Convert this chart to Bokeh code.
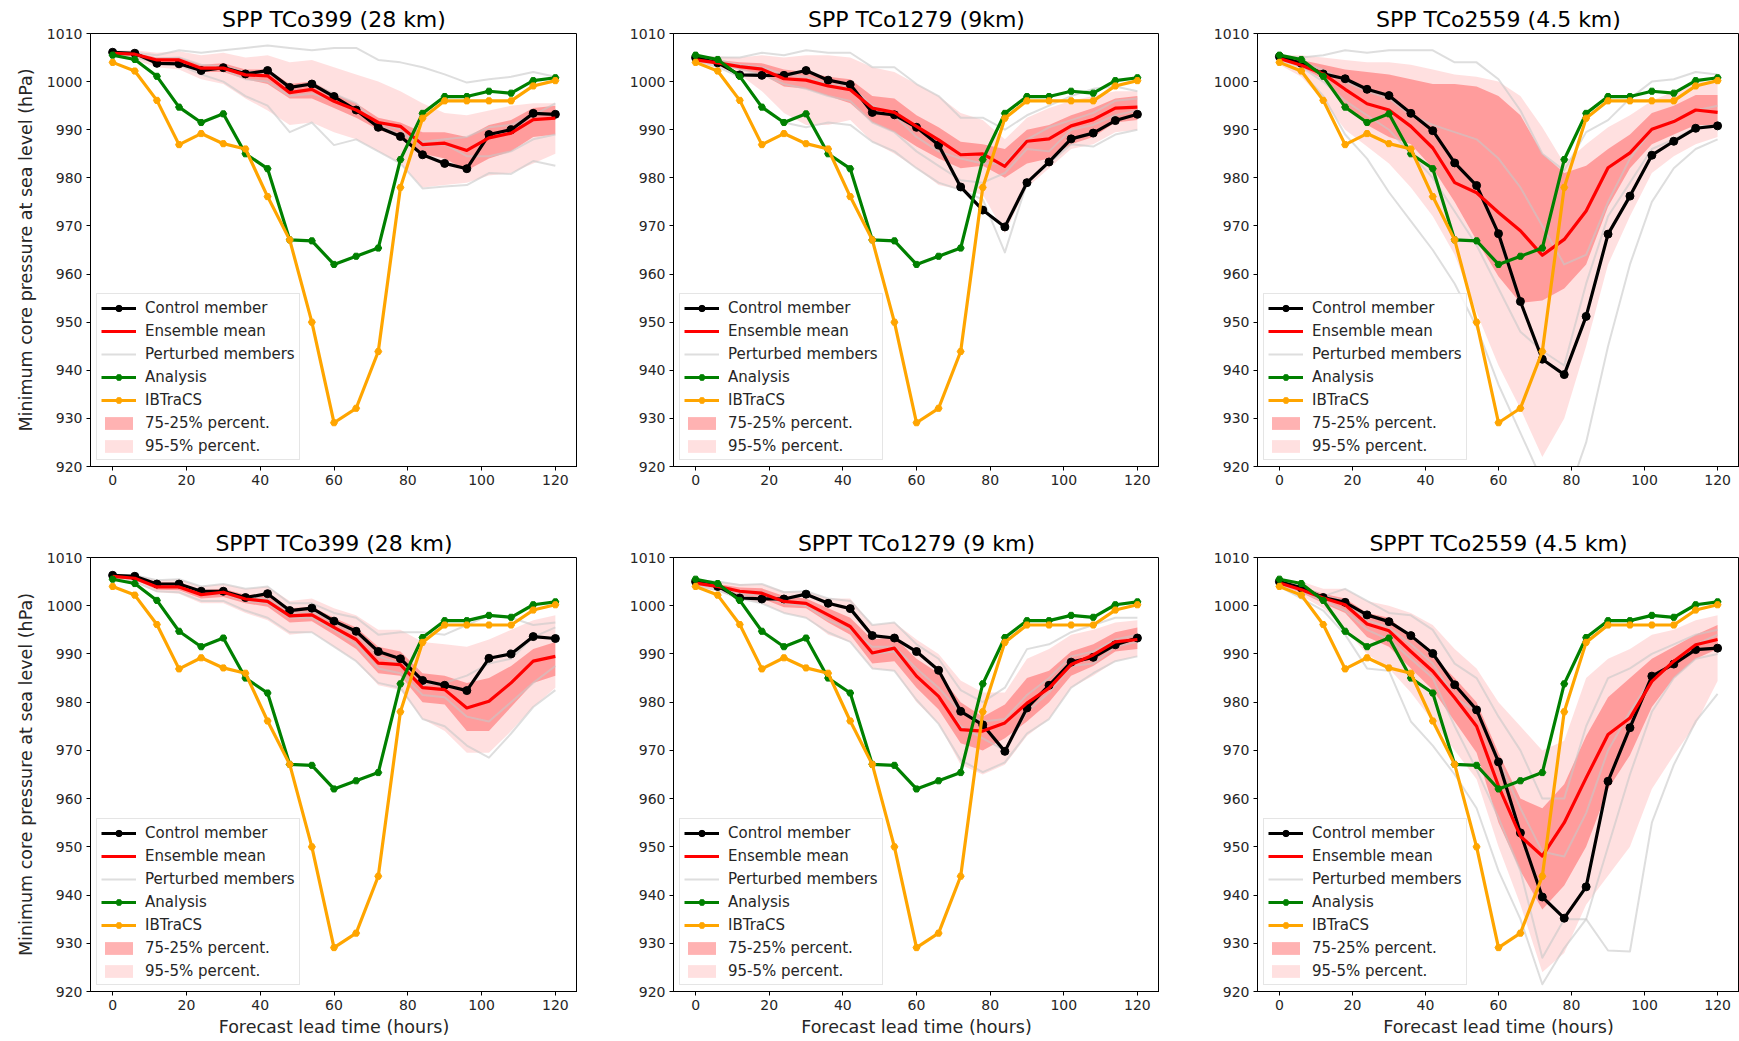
from bokeh.plotting import figure
from bokeh.layouts import column, row
from bokeh.models import FixedTicker, Legend, LegendItem, Range1d
from bokeh.embed import file_html
from bokeh.resources import INLINE

# Forecast lead times (hours)
hours = list(range(0, 121, 6))
x_ticks = [0, 20, 40, 60, 80, 100, 120]
y_ticks = [920, 930, 940, 950, 960, 970, 980, 990, 1000, 1010]

# Reference tracks shared by every panel
analysis = [1005.5, 1004.6, 1001.1, 994.7, 991.5, 993.3, 985.0, 981.9, 967.1, 966.9, 962.0,
            963.7, 965.4, 983.8, 993.4, 996.9, 996.9, 998.0, 997.6, 1000.2, 1000.8]
ibtracs = [1004.0, 1002.2, 996.1, 986.9, 989.2, 987.1, 986.0, 976.1, 967.1, 950.0, 929.1,
           932.1, 943.9, 978.0, 992.4, 996.0, 996.0, 996.0, 996.0, 999.1, 1000.2]

# ---- SPP TCo399 (28 km)
spp399_title = "SPP TCo399 (28 km)"
spp399_control = [1006.1, 1005.9, 1003.8, 1003.7, 1002.3, 1002.9, 1001.6, 1002.3, 998.8, 999.5, 996.9,
                  994.1, 990.5, 988.6, 984.8, 983.0, 981.9, 989.0, 990.0, 993.4, 993.2]
spp399_mean = [1005.9, 1005.7, 1004.5, 1004.5, 1002.8, 1002.8, 1001.4, 1001.2, 997.7, 998.4, 995.9,
               994.1, 991.5, 990.7, 986.9, 987.2, 985.7, 988.3, 989.3, 992.1, 992.4]
spp399_q75 = [1006.2, 1006.0, 1005.0, 1005.0, 1003.5, 1003.8, 1002.5, 1002.5, 999.5, 1000.0, 997.5,
              995.5, 992.5, 991.5, 989.5, 989.5, 988.5, 991.0, 992.0, 994.5, 995.0]
spp399_q25 = [1005.5, 1005.3, 1003.5, 1003.5, 1002.0, 1002.0, 1000.5, 999.5, 996.5, 996.5, 994.5,
              992.5, 990.0, 988.5, 985.0, 984.0, 981.5, 984.0, 985.5, 988.5, 989.0]
spp399_q95 = [1006.5, 1006.5, 1006.0, 1006.3, 1005.5, 1006.0, 1005.0, 1005.5, 1004.0, 1004.5, 1003.0,
              1001.5, 1000.0, 998.0, 995.5, 993.5, 993.0, 994.0, 995.0, 995.5, 995.5]
spp399_q05 = [1005.3, 1004.5, 1003.0, 1002.5, 1000.5, 999.5, 996.5, 994.0, 991.0, 991.5, 989.5,
              988.0, 985.5, 983.0, 978.0, 978.5, 979.0, 980.5, 981.0, 983.0, 985.0]
spp399_members = [
    [1006.0, 1006.0, 1005.5, 1006.5, 1006.0, 1006.5, 1007.0, 1007.5, 1007.0, 1006.5, 1007.0,
     1007.0, 1004.5, 1004.0, 1003.0, 1001.5, 999.8, 1000.5, 1001.0, 1002.0, 1001.0],
    [1005.5, 1005.0, 1004.0, 1003.5, 1001.5, 1000.0, 997.0, 995.0, 989.5, 991.5, 986.8,
     988.0, 985.5, 983.0, 977.8, 978.2, 978.5, 981.0, 980.8, 983.5, 982.5],
    [1006.0, 1005.5, 1004.5, 1004.5, 1003.0, 1002.5, 1000.5, 1000.0, 997.0, 997.5, 996.0,
     994.0, 991.5, 990.0, 986.5, 987.0, 984.5, 984.5, 985.5, 988.0, 989.0],
    [1005.8, 1005.5, 1004.8, 1005.0, 1003.5, 1003.2, 1002.0, 1002.0, 999.0, 999.5, 997.5,
     995.5, 991.0, 989.0, 987.5, 988.0, 988.5, 990.5, 991.0, 993.0, 995.5],
]

# ---- SPP TCo1279 (9km)
spp1279_title = "SPP TCo1279 (9km)"
spp1279_control = [1005.0, 1003.9, 1001.4, 1001.3, 1001.3, 1002.3, 1000.3, 999.4, 993.6, 993.1, 990.5,
                   986.8, 978.1, 973.3, 969.8, 979.0, 983.3, 988.1, 989.3, 991.9, 993.2]
spp1279_mean = [1004.5, 1003.9, 1003.1, 1002.6, 1000.6, 1000.3, 999.1, 998.3, 994.5, 993.6, 990.7,
                987.9, 984.8, 985.0, 982.4, 987.6, 988.1, 990.8, 992.1, 994.5, 994.7]
spp1279_q75 = [1005.0, 1004.5, 1004.0, 1003.8, 1002.5, 1002.0, 1001.0, 1000.5, 997.0, 996.5, 993.0,
               990.5, 987.5, 987.0, 986.0, 990.0, 991.0, 993.0, 994.5, 996.5, 997.0]
spp1279_q25 = [1004.0, 1003.5, 1002.5, 1001.5, 999.0, 998.5, 997.0, 995.5, 991.5, 989.5, 986.5,
               984.0, 982.0, 982.5, 980.0, 983.0, 984.0, 987.0, 988.5, 991.5, 992.0]
spp1279_q95 = [1005.3, 1005.2, 1005.0, 1005.5, 1005.0, 1005.5, 1005.5, 1005.0, 1003.0, 1002.0, 999.5,
               997.0, 993.5, 992.0, 988.0, 992.5, 994.5, 996.0, 997.0, 998.0, 998.0]
spp1279_q05 = [1003.8, 1003.0, 1001.5, 998.0, 993.5, 991.0, 991.0, 992.0, 987.5, 985.0, 982.0,
               978.5, 977.5, 976.5, 968.5, 978.0, 982.0, 986.0, 987.0, 989.5, 990.0]
spp1279_members = [
    [1005.0, 1005.0, 1005.0, 1006.0, 1005.5, 1006.5, 1006.0, 1006.0, 1003.0, 1003.0, 999.5,
     997.0, 992.5, 992.5, 990.0, 993.0, 995.0, 997.0, 998.5, 999.0, 998.0],
    [1004.5, 1003.0, 1001.0, 995.0, 991.5, 990.5, 991.5, 991.0, 987.5, 985.5, 982.0,
     979.0, 977.5, 975.5, 964.5, 979.0, 983.0, 987.0, 986.5, 989.0, 990.0],
    [1005.0, 1004.5, 1003.5, 1003.0, 1001.5, 1001.0, 999.5, 999.0, 995.0, 993.0, 988.5,
     985.5, 984.0, 983.0, 983.0, 988.0, 990.5, 992.0, 993.5, 996.0, 996.5],
    [1004.5, 1004.0, 1002.5, 1001.5, 999.5, 998.5, 997.0, 996.0, 991.5, 989.5, 985.5,
     982.5, 979.5, 979.0, 981.0, 986.0, 985.5, 990.0, 991.0, 993.0, 994.0],
]

# ---- SPP TCo2559 (4.5 km)
spp2559_title = "SPP TCo2559 (4.5 km)"
spp2559_control = [1005.2, 1003.8, 1001.6, 1000.6, 998.4, 997.1, 993.4, 989.8, 983.1, 978.4, 968.4,
                   954.3, 942.3, 939.1, 951.2, 968.3, 976.2, 984.7, 987.6, 990.3, 990.8]
spp2559_mean = [1004.8, 1003.4, 1001.6, 998.4, 995.4, 994.1, 990.7, 986.2, 979.0, 976.9, 972.8,
                969.0, 963.9, 967.2, 973.1, 982.1, 985.2, 990.1, 991.7, 994.1, 993.6]
spp2559_q75 = [1005.0, 1004.5, 1003.5, 1002.5, 1002.0, 1001.5, 1000.5, 999.5, 999.5, 999.0, 997.0,
               993.0, 985.0, 981.0, 982.5, 986.0, 989.0, 993.5, 995.0, 997.2, 997.2]
spp2559_q25 = [1004.5, 1003.0, 1000.5, 995.0, 991.0, 988.5, 987.0, 982.0, 975.0, 967.0, 959.5,
               954.0, 954.5, 957.0, 962.0, 974.0, 982.0, 987.0, 989.0, 991.0, 991.0]
spp2559_q95 = [1005.5, 1005.5, 1005.0, 1004.5, 1004.0, 1004.0, 1003.5, 1002.5, 1001.5, 1001.0, 1000.0,
               997.0, 990.5, 983.0, 987.0, 990.5, 993.0, 996.0, 998.0, 1000.0, 1000.0]
spp2559_q05 = [1003.5, 1001.0, 996.0, 990.0, 986.5, 983.0, 978.0, 972.0, 964.0, 952.0, 941.0,
               932.0, 922.0, 930.0, 945.0, 962.0, 972.0, 981.0, 984.5, 987.0, 988.5]
spp2559_members = [
    [1005.0, 1005.0, 1005.5, 1006.5, 1006.0, 1006.5, 1006.5, 1006.5, 1004.0, 1004.0, 1000.5,
     994.0, 985.0, 981.5, 989.5, 992.0, 996.5, 1000.0, 1000.5, 1002.0, 1001.5],
    [1004.0, 1002.0, 997.0, 989.0, 984.0, 977.0, 971.0, 965.0, 958.0, 949.0, 937.0,
     927.0, 917.0, 912.0, 925.0, 945.0, 962.0, 975.0, 982.0, 986.0, 988.0],
    [1004.5, 1003.0, 1000.0, 996.0, 993.0, 990.0, 985.0, 980.0, 973.0, 966.0, 957.0,
     948.0, 944.0, 941.0, 958.0, 972.0, 979.0, 986.0, 988.0, 990.5, 991.0],
    [1005.0, 1004.0, 1002.5, 1000.0, 998.0, 996.5, 993.0, 991.0, 989.5, 988.0, 984.0,
     978.0, 970.0, 962.0, 964.0, 975.0, 984.0, 990.0, 992.0, 994.0, 995.0],
]

# ---- SPPT TCo399 (28 km)
sppt399_title = "SPPT TCo399 (28 km)"
sppt399_control = [1006.3, 1006.1, 1004.5, 1004.5, 1003.0, 1003.0, 1001.7, 1002.5, 999.0, 999.5, 996.8,
                   994.7, 990.5, 989.0, 984.5, 983.5, 982.4, 989.1, 990.0, 993.6, 993.2]
sppt399_mean = [1006.1, 1005.7, 1003.9, 1003.9, 1002.3, 1002.8, 1001.4, 1000.9, 997.9, 998.1, 995.5,
                993.0, 988.1, 987.8, 983.0, 982.6, 978.8, 980.2, 984.0, 988.5, 989.5]
sppt399_q75 = [1006.3, 1006.0, 1004.8, 1004.8, 1003.2, 1003.5, 1002.3, 1002.2, 999.5, 999.8, 997.5,
               995.5, 991.5, 990.5, 986.0, 985.5, 984.0, 985.0, 987.5, 991.0, 992.5]
sppt399_q25 = [1005.7, 1005.4, 1003.3, 1003.2, 1001.5, 1001.8, 1000.5, 999.8, 996.5, 996.8, 994.0,
               991.0, 986.0, 985.5, 980.0, 979.5, 974.0, 974.0, 979.0, 984.0, 985.5]
sppt399_q95 = [1006.5, 1006.3, 1005.3, 1005.5, 1004.0, 1004.5, 1003.5, 1004.0, 1001.0, 1001.5, 999.5,
               998.0, 995.0, 995.0, 992.5, 992.0, 991.5, 993.0, 995.0, 997.0, 998.0]
sppt399_q05 = [1005.3, 1004.8, 1002.8, 1002.5, 1000.5, 1000.5, 998.5, 997.0, 994.0, 994.5, 991.5,
               988.5, 983.5, 982.5, 976.5, 974.0, 969.5, 969.5, 974.0, 979.0, 983.0]
sppt399_members = [
    [1006.3, 1006.3, 1005.3, 1005.5, 1004.0, 1004.5, 1003.5, 1004.0, 1000.5, 1000.5, 998.5,
     997.5, 994.0, 994.5, 994.5, 994.0, 996.0, 998.0, 997.5, 996.0, 996.5],
    [1005.5, 1005.0, 1003.0, 1002.8, 1001.0, 1001.0, 999.0, 997.5, 994.5, 994.5, 991.5,
     988.5, 984.0, 983.0, 976.5, 975.0, 971.0, 968.5, 973.5, 979.0, 982.5],
    [1006.0, 1005.5, 1004.0, 1004.0, 1002.5, 1002.5, 1001.0, 1000.5, 997.5, 997.5, 995.0,
     992.0, 987.0, 986.0, 981.5, 981.0, 977.0, 976.0, 980.0, 984.0, 987.5],
    [1006.0, 1005.8, 1004.5, 1004.3, 1002.8, 1003.0, 1001.8, 1001.5, 998.5, 998.8, 996.5,
     994.0, 989.5, 988.0, 983.5, 984.0, 985.5, 988.0, 989.0, 993.5, 995.5],
]

# ---- SPPT TCo1279 (9 km)
sppt1279_title = "SPPT TCo1279 (9 km)"
sppt1279_control = [1005.0, 1004.0, 1001.6, 1001.4, 1001.4, 1002.4, 1000.5, 999.4, 993.8, 993.3, 990.5,
                    986.6, 978.1, 975.3, 969.8, 978.8, 983.5, 988.3, 989.3, 991.9, 993.3]
sppt1279_mean = [1004.7, 1004.0, 1003.0, 1002.6, 1000.9, 1000.5, 998.1, 995.7, 990.2, 991.2, 985.4,
                 981.2, 974.3, 974.0, 975.7, 979.8, 982.9, 987.8, 989.8, 992.5, 993.0]
sppt1279_q75 = [1005.0, 1004.5, 1003.8, 1003.6, 1002.0, 1001.5, 999.5, 997.5, 993.0, 993.5, 989.0,
                986.0, 980.0, 977.0, 979.5, 985.0, 986.5, 990.5, 992.0, 994.5, 995.5]
sppt1279_q25 = [1004.3, 1003.5, 1002.2, 1001.5, 999.7, 999.5, 996.5, 994.0, 988.0, 988.5, 983.0,
                978.5, 971.5, 970.0, 972.5, 976.0, 980.0, 985.5, 987.5, 990.5, 991.0]
sppt1279_q95 = [1005.3, 1005.0, 1004.5, 1004.5, 1003.0, 1003.0, 1001.5, 1001.5, 996.0, 996.5, 993.0,
                990.0, 984.5, 982.0, 982.0, 989.0, 991.0, 994.0, 995.0, 996.5, 997.0]
sppt1279_q05 = [1004.0, 1003.0, 1001.5, 1000.5, 998.5, 997.5, 994.0, 992.5, 987.0, 986.5, 980.0,
                975.5, 967.0, 965.0, 967.0, 973.0, 976.5, 983.0, 985.5, 988.5, 989.5]
sppt1279_members = [
    [1005.2, 1005.0, 1004.3, 1004.5, 1002.8, 1003.0, 1001.5, 1001.0, 996.0, 996.5, 992.0,
     989.0, 982.5, 980.0, 983.0, 991.0, 992.0, 994.5, 996.0, 997.5, 997.5],
    [1004.2, 1003.2, 1001.5, 1000.5, 998.5, 997.5, 994.5, 992.5, 987.0, 986.5, 980.5,
     975.5, 968.0, 965.5, 967.5, 973.5, 976.5, 983.0, 986.0, 988.5, 989.5],
    [1004.8, 1004.2, 1003.0, 1002.8, 1001.0, 1000.5, 998.0, 995.5, 990.0, 990.5, 985.5,
     981.0, 975.0, 972.5, 970.0, 978.0, 982.0, 987.5, 988.0, 991.5, 992.5],
    [1004.5, 1003.8, 1002.5, 1002.0, 1000.5, 1000.0, 997.0, 995.0, 991.5, 991.5, 987.0,
     983.0, 978.0, 976.0, 976.5, 981.5, 985.0, 989.5, 990.5, 993.0, 994.0],
]

# ---- SPPT TCo2559 (4.5 km)
sppt2559_title = "SPPT TCo2559 (4.5 km)"
sppt2559_control = [1005.0, 1003.7, 1001.7, 1000.7, 998.1, 996.7, 993.8, 990.1, 983.6, 978.4, 967.6,
                    952.9, 939.6, 935.2, 941.7, 963.6, 974.7, 985.4, 987.9, 990.9, 991.2]
sppt2559_mean = [1004.7, 1003.3, 1001.6, 1000.2, 996.2, 994.8, 990.5, 986.4, 980.9, 975.0, 962.6,
                 952.2, 948.1, 955.0, 964.3, 973.3, 976.7, 984.3, 988.5, 991.9, 993.0]
sppt2559_q75 = [1005.0, 1004.0, 1002.5, 1001.5, 998.5, 997.5, 993.5, 989.5, 985.0, 980.0, 969.5,
                960.0, 958.0, 963.0, 973.0, 981.0, 985.0, 989.0, 991.5, 994.0, 996.0]
sppt2559_q25 = [1004.3, 1002.7, 1000.5, 998.5, 993.5, 991.5, 987.0, 982.5, 976.0, 969.5, 955.0,
                945.0, 937.0, 942.0, 950.0, 962.0, 969.0, 979.0, 985.0, 989.0, 991.0]
sppt2559_q95 = [1005.3, 1005.0, 1003.5, 1003.5, 1001.0, 1000.0, 998.5, 996.0, 991.0, 987.0, 980.0,
                975.0, 970.0, 972.0, 985.0, 989.0, 991.0, 994.0, 995.0, 997.0, 998.0]
sppt2559_q05 = [1004.0, 1002.0, 999.5, 995.0, 990.0, 987.0, 982.0, 976.0, 970.0, 964.0, 950.0,
                938.0, 924.0, 928.0, 938.0, 944.0, 950.0, 962.0, 969.0, 975.4, 984.4]
sppt2559_members = [
    [1004.0, 1001.5, 999.0, 994.0, 987.0, 986.5, 976.0, 971.0, 965.0, 958.0, 945.0,
     935.0, 921.5, 929.0, 935.0, 928.5, 928.3, 955.0, 967.0, 976.0, 981.7],
    [1005.0, 1004.0, 1002.0, 1003.5, 1001.0, 998.5, 998.0, 995.0, 988.0, 985.0, 977.0,
     970.0, 960.0, 960.0, 975.0, 985.0, 987.0, 990.0, 992.0, 994.0, 995.0],
    [1004.5, 1003.0, 1001.0, 999.0, 995.0, 993.0, 989.0, 985.0, 975.0, 966.0, 956.0,
     945.0, 927.0, 935.0, 935.0, 950.0, 965.0, 978.0, 985.0, 989.0, 990.0],
    [1004.8, 1003.5, 1002.0, 1001.0, 997.0, 995.5, 992.0, 988.0, 981.0, 978.0, 968.0,
     958.0, 949.0, 948.0, 957.0, 970.0, 978.0, 985.0, 988.0, 992.0, 994.0],
]

panels = [
    (spp399_title, spp399_control, spp399_mean, spp399_q75, spp399_q25, spp399_q95, spp399_q05, spp399_members),
    (spp1279_title, spp1279_control, spp1279_mean, spp1279_q75, spp1279_q25, spp1279_q95, spp1279_q05, spp1279_members),
    (spp2559_title, spp2559_control, spp2559_mean, spp2559_q75, spp2559_q25, spp2559_q95, spp2559_q05, spp2559_members),
    (sppt399_title, sppt399_control, sppt399_mean, sppt399_q75, sppt399_q25, sppt399_q95, sppt399_q05, sppt399_members),
    (sppt1279_title, sppt1279_control, sppt1279_mean, sppt1279_q75, sppt1279_q25, sppt1279_q95, sppt1279_q05, sppt1279_members),
    (sppt2559_title, sppt2559_control, sppt2559_mean, sppt2559_q75, sppt2559_q25, sppt2559_q95, sppt2559_q05, sppt2559_members),
]

FONT = "DejaVu Sans"
TEXT = "#262626"

# frame placement per column / row
col_left = [90, 96, 98]
col_frame_w = [487, 486, 482]
row_top = [33, 44]
row_frame_h = [433, 434]
row_bottom = [47, 50]


def make_panel(idx, title, control, mean, q75, q25, q95, q05, members):
    r, c = divmod(idx, 3)
    p = figure(frame_width=col_frame_w[c], frame_height=row_frame_h[r],
               min_border_left=col_left[c], min_border_right=0,
               min_border_top=row_top[r], min_border_bottom=row_bottom[r],
               x_range=Range1d(-6, 126), y_range=Range1d(920, 1010),
               output_backend="svg", toolbar_location=None, tools="")
    p.title.text = title
    p.title.align = "center"
    p.title.text_font = FONT
    p.title.text_font_size = "22px"
    p.title.text_font_style = "normal"
    p.title.text_color = "black"
    p.title.standoff = 4
    p.grid.visible = False
    p.outline_line_color = "black"
    p.outline_line_width = 1
    p.outline_line_alpha = 1
    p.background_fill_color = "white"
    p.border_fill_color = "white"

    for ax in (p.xaxis[0], p.yaxis[0]):
        ax.axis_line_color = "black"
        ax.major_tick_line_color = "black"
        ax.major_tick_in = 0
        ax.major_tick_out = 4
        ax.minor_tick_line_color = None
        ax.major_label_text_font = FONT
        ax.major_label_text_font_size = "14px"
        ax.major_label_text_color = TEXT
        ax.axis_label_text_font = FONT
        ax.axis_label_text_font_size = "17.5px"
        ax.axis_label_text_font_style = "normal"
        ax.axis_label_text_color = TEXT
    p.xaxis.ticker = FixedTicker(ticks=x_ticks)
    p.yaxis.ticker = FixedTicker(ticks=y_ticks)
    p.xaxis.major_label_standoff = 4
    p.yaxis.major_label_standoff = 4
    if c == 0:
        p.yaxis.axis_label = "Minimum core pressure at sea level (hPa)"
        p.yaxis.axis_label_standoff = 8
    if r == 1:
        p.xaxis.axis_label = "Forecast lead time (hours)"
        p.xaxis.axis_label_standoff = 4

    # percentile bands
    band95 = p.varea(x=hours, y1=q05, y2=q95, fill_color="red", fill_alpha=0.12)
    band75 = p.varea(x=hours, y1=q25, y2=q75, fill_color="red", fill_alpha=0.3)

    # perturbed ensemble members
    member_lines = []
    for m in members:
        member_lines.append(p.line(hours, m, line_color="#c8c8c8", line_alpha=0.6,
                                   line_width=2, line_join="round"))

    ctrl_l = p.line(hours, control, line_color="black", line_width=3.2, line_join="round")
    ctrl_m = p.scatter(hours, control, marker="circle", size=8, fill_color="black", line_color="black")
    mean_l = p.line(hours, mean, line_color="red", line_width=3.2, line_join="round")
    ana_l = p.line(hours, analysis, line_color="green", line_width=3.2, line_join="round")
    ana_m = p.scatter(hours, analysis, marker="hex", size=7, fill_color="green", line_color="green")
    ib_l = p.line(hours, ibtracs, line_color="orange", line_width=3.2, line_join="round")
    ib_m = p.scatter(hours, ibtracs, marker="hex", size=7, fill_color="orange", line_color="orange")

    legend = Legend(items=[
        LegendItem(label="Control member", renderers=[ctrl_l, ctrl_m]),
        LegendItem(label="Ensemble mean", renderers=[mean_l]),
        LegendItem(label="Perturbed members", renderers=[member_lines[0]]),
        LegendItem(label="Analysis", renderers=[ana_l, ana_m]),
        LegendItem(label="IBTraCS", renderers=[ib_l, ib_m]),
        LegendItem(label="75-25% percent.", renderers=[band75]),
        LegendItem(label="95-5% percent.", renderers=[band95]),
    ], location="bottom_left")
    legend.label_text_font = FONT
    legend.label_text_font_size = "15px"
    legend.label_text_color = TEXT
    legend.label_height = 19
    legend.glyph_height = 16
    legend.glyph_width = 35
    legend.label_standoff = 9
    legend.spacing = 4
    legend.padding = 4
    legend.margin = 6
    legend.border_line_color = "#cccccc"
    legend.border_line_width = 1
    legend.background_fill_alpha = 0.85
    p.add_layout(legend, "center")
    return p


figs = [make_panel(i, *panel) for i, panel in enumerate(panels)]
layout = column(row(*figs[:3]), row(*figs[3:]))

open("out.html", "w").write(file_html(layout, INLINE))
